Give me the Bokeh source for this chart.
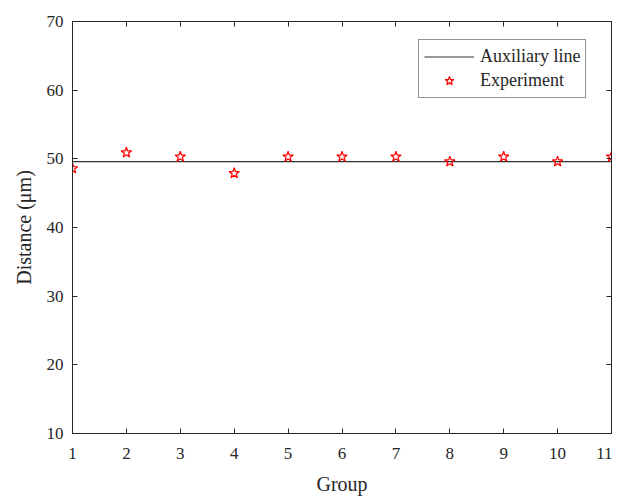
from bokeh.plotting import figure
from bokeh.models import LinearAxis, Range1d, Legend, LegendItem, FixedTicker
from bokeh.embed import file_html
from bokeh.resources import INLINE

groups = [1, 2, 3, 4, 5, 6, 7, 8, 9, 10, 11]
distance = [48.6, 50.9, 50.3, 47.9, 50.3, 50.3, 50.3, 49.6, 50.3, 49.6, 50.3]
aux_value = 49.6
x_ticks = [1, 2, 3, 4, 5, 6, 7, 8, 9, 10, 11]
y_ticks = [10, 20, 30, 40, 50, 60, 70]

FONT = "Liberation Serif"
TXT = "#262626"

p = figure(width=612, height=497, output_backend="svg", toolbar_location=None,
           x_range=Range1d(1, 11), y_range=Range1d(10, 70),
           min_border_left=72, min_border_right=1, min_border_top=21, min_border_bottom=63,
           background_fill_color="white", border_fill_color="white")
p.xgrid.visible = False
p.ygrid.visible = False
p.outline_line_color = TXT
p.outline_line_width = 1

for ax in (p.xaxis[0], p.yaxis[0]):
    ax.major_tick_in = 5
    ax.major_tick_out = 0
    ax.minor_tick_in = 0
    ax.minor_tick_out = 0
    ax.major_label_text_font = FONT
    ax.major_label_text_font_size = "17px"
    ax.major_label_text_color = TXT
    ax.axis_label_text_font = FONT
    ax.axis_label_text_font_size = "20px"
    ax.axis_label_text_font_style = "normal"
    ax.axis_label_text_color = TXT
    ax.axis_line_color = TXT
    ax.major_tick_line_color = TXT

p.xaxis.ticker = FixedTicker(ticks=x_ticks)
p.yaxis.ticker = FixedTicker(ticks=y_ticks)
p.xaxis.axis_label = "Group"
p.yaxis.axis_label = "Distance (μm)"
p.xaxis.major_label_standoff = 14
p.yaxis.major_label_standoff = 9
p.xaxis.axis_label_standoff = 11
p.yaxis.axis_label_standoff = 9

right = LinearAxis(ticker=FixedTicker(ticks=y_ticks),
                   major_label_overrides={t: "" for t in y_ticks},
                   major_tick_in=5, major_tick_out=0, minor_tick_in=0, minor_tick_out=0,
                   axis_line_color=TXT, major_tick_line_color=TXT, major_label_standoff=0)
top = LinearAxis(ticker=FixedTicker(ticks=x_ticks),
                 major_label_overrides={t: "" for t in x_ticks},
                 major_tick_in=5, major_tick_out=0, minor_tick_in=0, minor_tick_out=0,
                 axis_line_color=TXT, major_tick_line_color=TXT, major_label_standoff=0)
p.add_layout(right, "right")
p.add_layout(top, "above")

line_r = p.line(x=[groups[0], groups[-1]], y=[aux_value, aux_value], line_color="#333333", line_width=1.2)
star_r = p.scatter(x=groups, y=distance, marker="star", size=11, fill_color=None,
                   line_color="red", line_width=1.2)

legend = Legend(items=[LegendItem(label="Auxiliary line", renderers=[line_r]),
                       LegendItem(label="Experiment", renderers=[star_r])],
                location=(346, 335), padding=5, spacing=1,
                glyph_width=50, glyph_height=23, label_standoff=6,
                label_text_font=FONT, label_text_font_size="18px", label_text_color=TXT,
                border_line_color=TXT, border_line_width=1,
                background_fill_color="white", background_fill_alpha=1.0)
p.add_layout(legend)

open("out.html", "w").write(file_html(p, INLINE))
